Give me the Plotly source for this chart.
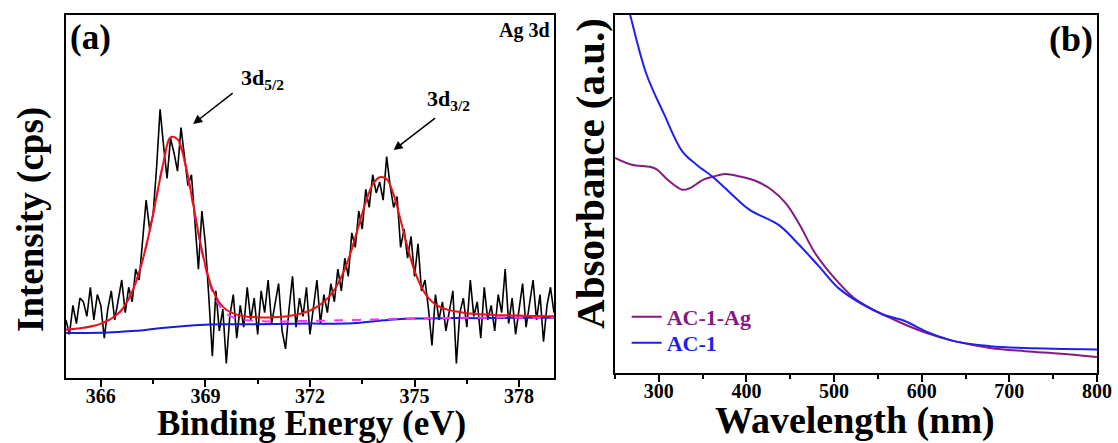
import plotly.graph_objects as go

# ---------------- Panel (a): XPS Ag 3d ----------------
be_raw = [round(365.0 + 0.1 * i, 1) for i in range(141)]
raw_counts = [
    16, 12, 20, 15, 22, 21, 17, 25, 16, 23,
    20, 11, 19, 24, 16, 22, 27, 18, 25, 21,
    30, 27, 38, 49, 41, 45, 58, 74, 64, 55,
    66, 62, 57, 69, 61, 53, 56, 44, 30, 46,
    37, 22, 6, 24, 13, 19, 4, 17, 23, 11,
    20, 14, 25, 16, 22, 12, 24, 18, 27, 15,
    21, 26, 13, 8, 19, 28, 14, 22, 17, 25,
    12, 20, 27, 15, 23, 18, 26, 21, 30, 24,
    33, 28, 40, 36, 46, 41, 52, 47, 56, 51,
    54, 49, 61, 53, 47, 50, 36, 41, 33, 39,
    28, 37, 24, 27, 19, 9, 23, 16, 21, 13,
    19, 24, 4, 18, 22, 14, 27, 17, 21, 11,
    25, 16, 20, 13, 23, 18, 30, 15, 22, 12,
    19, 26, 14, 21, 27, 16, 23, 10, 20, 25,
    18,
]

be_fit = [round(365.0 + 0.2 * i, 1) for i in range(71)]
envelope = [
    13.3, 13.5, 13.7, 14.0, 14.4, 15.0, 15.8, 17.0, 18.8, 21.8,
    26.3, 32.5, 40.5, 50.0, 59.5, 66.3, 65.8, 60.0, 50.5, 40.0,
    31.0, 24.5, 20.8, 18.8, 17.8, 17.2, 16.9, 16.8, 16.7, 16.7,
    16.8, 16.9, 17.1, 17.4, 17.9, 18.6, 19.6, 21.0, 23.0, 26.0,
    30.0, 35.5, 42.0, 48.5, 53.3, 55.3, 54.8, 50.5, 43.5, 36.0,
    29.5, 25.0, 22.0, 20.3, 19.3, 18.7, 18.3, 18.0, 17.8, 17.6,
    17.5, 17.4, 17.3, 17.3, 17.2, 17.2, 17.1, 17.1, 17.1, 17.0,
    17.0,
]
peak_5_2 = [
    13.3, 13.5, 13.7, 14.0, 14.4, 15.0, 15.8, 17.0, 18.8, 21.8,
    26.3, 32.5, 40.5, 50.0, 59.5, 66.2, 65.6, 59.7, 50.1, 39.6,
    30.4, 23.8, 20.0, 17.8, 16.7, 16.2, 15.9, 15.8, 15.7, 15.6,
    15.6, 15.6, 15.6, 15.7, 15.7, 15.7, 15.8, 15.8, 15.8, 15.9,
    15.9, 16.0, 16.0, 16.1, 16.1, 16.2, 16.2, 16.3, 16.3, 16.4,
    16.4, 16.4, 16.5, 16.5, 16.5, 16.5, 16.6, 16.6, 16.6, 16.6,
    16.6, 16.6, 16.7, 16.7, 16.7, 16.7, 16.7, 16.7, 16.7, 16.7,
    16.7,
]
be_bg = [365.0, 366.0, 366.5, 367.0, 367.5, 368.0, 368.5, 369.0, 370.0, 371.0,
         372.0, 373.0, 373.5, 374.0, 374.5, 375.0, 376.0, 377.0, 378.0, 379.0]
background = [12.4, 12.5, 12.7, 13.0, 13.5, 14.0, 14.4, 14.7, 14.8, 14.9,
              15.0, 15.0, 15.3, 15.8, 16.2, 16.4, 16.5, 16.5, 16.6, 16.6]

# ---------------- Panel (b): UV-vis ----------------
wl_ag = [250, 269, 290, 298, 310, 326.5, 335, 351, 363, 375.5, 392, 412, 428.6,
         445, 461, 477.5, 498, 522, 547, 575.5, 604, 637, 678, 718, 759, 800]
abs_ag = [0.601, 0.582, 0.576, 0.568, 0.540, 0.512, 0.516, 0.540, 0.549, 0.556,
          0.549, 0.535, 0.512, 0.474, 0.413, 0.338, 0.272, 0.211, 0.174, 0.141,
          0.113, 0.089, 0.070, 0.061, 0.054, 0.045]
wl_ac = [260, 267.3, 285.7, 306, 326.5, 343, 363, 388, 404, 437, 457, 482, 506,
         535, 555, 580, 604, 637, 678, 718, 800]
abs_ac = [1.07, 1.0, 0.836, 0.723, 0.620, 0.582, 0.545, 0.488, 0.455, 0.413,
          0.366, 0.300, 0.235, 0.188, 0.164, 0.146, 0.117, 0.089, 0.075, 0.070,
          0.066]

SERIF = "Liberation Serif, Times New Roman, serif"
PURPLE = "#851a80"
BLUE = "#1f1ff0"

fig = go.Figure()
fig.add_trace(go.Scatter(x=be_raw, y=raw_counts, mode="lines",
                         line=dict(color="black", width=1.6), showlegend=False,
                         xaxis="x", yaxis="y"))
fig.add_trace(go.Scatter(x=be_bg, y=background, mode="lines",
                         line=dict(color="#1a1ad8", width=2, shape="spline"),
                         showlegend=False, xaxis="x", yaxis="y"))
fig.add_trace(go.Scatter(x=be_fit, y=peak_5_2, mode="lines",
                         line=dict(color="#ff33ff", width=2, dash="dash", shape="spline"),
                         showlegend=False, xaxis="x", yaxis="y"))
fig.add_trace(go.Scatter(x=be_fit, y=envelope, mode="lines",
                         line=dict(color="#ee1111", width=2, shape="spline"),
                         showlegend=False, xaxis="x", yaxis="y"))

fig.add_trace(go.Scatter(x=wl_ag, y=abs_ag, mode="lines", legend="legend",
                         name="<span style='color:%s'>AC-1-Ag</span>" % PURPLE,
                         line=dict(color=PURPLE, width=2, shape="spline"),
                         xaxis="x2", yaxis="y2"))
fig.add_trace(go.Scatter(x=wl_ac, y=abs_ac, mode="lines", legend="legend2",
                         name="<span style='color:%s'>AC-1</span>" % BLUE,
                         line=dict(color=BLUE, width=2, shape="spline"),
                         xaxis="x2", yaxis="y2"))

axis_common = dict(showline=True, linecolor="black", linewidth=2, mirror=True,
                   showgrid=False, zeroline=False, automargin=False)
tickfont = dict(family=SERIF, size=20, color="black", weight="bold")
legend_common = dict(xanchor="left", yanchor="middle", bgcolor="rgba(0,0,0,0)",
                     borderwidth=0, font=dict(family=SERIF, size=22, weight="bold"),
                     itemwidth=30)

fig.update_layout(
    width=1118, height=443,
    margin=dict(l=0, r=0, t=0, b=0, autoexpand=False),
    paper_bgcolor="white", plot_bgcolor="white",
    xaxis=dict(domain=[0.059, 0.4955], range=[365, 379], anchor="y",
               tickvals=[366, 369, 372, 375, 378], ticks="outside", ticklen=7,
               tickwidth=2, tickcolor="black", ticklabelstandoff=-8,
               minor=dict(tickvals=[367.5, 370.5, 373.5, 376.5], ticks="outside",
                          ticklen=4, tickwidth=2, tickcolor="black"),
               tickfont=tickfont, **axis_common),
    yaxis=dict(domain=[0.1467, 0.9661], range=[0, 100], anchor="x",
               showticklabels=False, ticks="", **axis_common),
    xaxis2=dict(domain=[0.5501, 0.9812], range=[250, 800], anchor="y2",
                tickvals=[300, 400, 500, 600, 700, 800], ticks="outside", ticklen=7,
                tickwidth=2, tickcolor="black", ticklabelstandoff=-8,
                minor=dict(tickvals=[250, 350, 450, 550, 650, 750], ticks="outside",
                           ticklen=4, tickwidth=2, tickcolor="black"),
                tickfont=tickfont, **axis_common),
    yaxis2=dict(domain=[0.158, 0.9661], range=[0, 1], anchor="x2",
                showticklabels=False, ticks="", **axis_common),
    legend=dict(x=0.5605, y=0.2844, **legend_common),
    legend2=dict(x=0.5605, y=0.2257, **legend_common),
)

# axis titles
fig.add_annotation(x=0.2782, y=0.0451, xref="paper", yref="paper", xanchor="center",
                   yanchor="middle", showarrow=False, text="Binding Energy (eV)",
                   font=dict(family=SERIF, size=35, color="black", weight="bold"))
fig.add_annotation(x=0.7648, y=0.0497, xref="paper", yref="paper", xanchor="center",
                   yanchor="middle", showarrow=False, text="Wavelength (nm)",
                   font=dict(family=SERIF, size=38, color="black", weight="bold"))
fig.add_annotation(x=0.0277, y=0.5056, xref="paper", yref="paper", xanchor="center",
                   yanchor="middle", showarrow=False, text="Intensity (cps)", textangle=-90,
                   font=dict(family=SERIF, size=37, color="black", weight="bold"))
fig.add_annotation(x=0.5277, y=0.6095, xref="paper", yref="paper", xanchor="center",
                   yanchor="middle", showarrow=False, text="Absorbance (a.u.)", textangle=-90,
                   font=dict(family=SERIF, size=41, color="black", weight="bold"))

ann_font = dict(family=SERIF, size=22, color="black", weight="bold")
fig.add_annotation(x=368.65, y=70.0, xref="x", yref="y", ax=41, ay=-32,
                   showarrow=True, arrowhead=2, arrowsize=1.2, arrowwidth=1.5,
                   arrowcolor="black", text="")
fig.add_annotation(x=374.40, y=62.8, xref="x", yref="y", ax=43, ay=-33,
                   showarrow=True, arrowhead=2, arrowsize=1.2, arrowwidth=1.5,
                   arrowcolor="black", text="")
fig.add_annotation(x=369.95, y=82.5, xref="x", yref="y", xanchor="left", yanchor="middle",
                   showarrow=False, text="3d<sub>5/2</sub>", font=ann_font)
fig.add_annotation(x=375.3, y=76.6, xref="x", yref="y", xanchor="left", yanchor="middle",
                   showarrow=False, text="3d<sub>3/2</sub>", font=ann_font)

fig.add_annotation(x=0.0605, y=0.965, xref="paper", yref="paper", xanchor="left", yanchor="top",
                   showarrow=False, text="(a)",
                   font=dict(family=SERIF, size=35, color="black", weight="bold"))
fig.add_annotation(x=0.4935, y=0.962, xref="paper", yref="paper", xanchor="right", yanchor="top",
                   showarrow=False, text="Ag 3d",
                   font=dict(family=SERIF, size=20, color="black", weight="bold"))
fig.add_annotation(x=0.979, y=0.962, xref="paper", yref="paper", xanchor="right", yanchor="top",
                   showarrow=False, text="(b)",
                   font=dict(family=SERIF, size=36, color="black", weight="bold"))

fig.write_html("out.html", config={"displayModeBar": False},
               post_script="document.body.style.margin='0';document.body.style.overflow='hidden';")
